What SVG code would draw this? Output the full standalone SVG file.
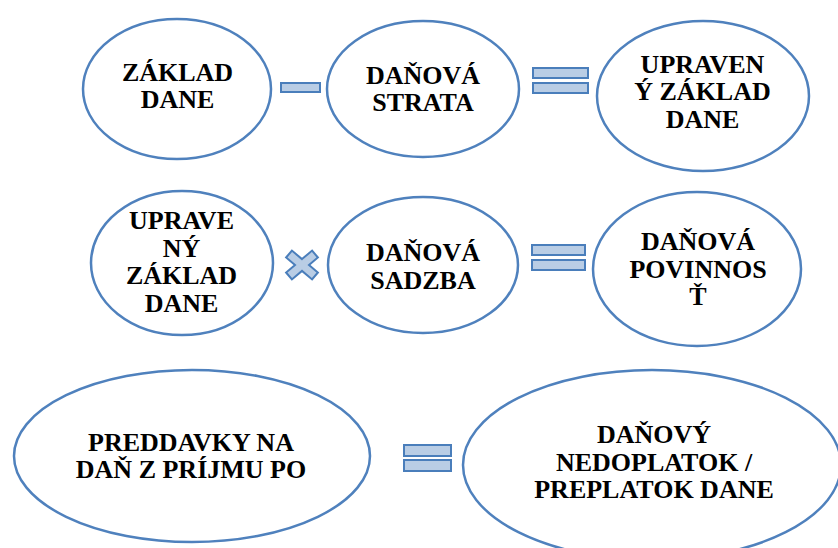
<svg xmlns="http://www.w3.org/2000/svg" width="838" height="548" viewBox="0 0 838 548">
<style>
.node{fill:#FFFFFF;stroke:#4F81BD;stroke-width:2.5}
.op{fill:#B9CDE5;stroke:#4A7EBB;stroke-width:2}
text{fill:#000;text-anchor:middle}
</style>
<rect width="838" height="548" fill="#FFFFFF"/>
<g font-family="Liberation Serif, Times New Roman, DejaVu Serif, Noto Serif, serif" font-weight="bold" font-size="26">
<g id="n1"><ellipse class="node" cx="177" cy="89" rx="94" ry="70"/><text x="177.5" y="81">ZÁKLAD</text><text x="177.5" y="108">DANE</text></g>
<g id="n2"><ellipse class="node" cx="423" cy="89" rx="96" ry="68"/><text x="423" y="84">DAŇOVÁ</text><text x="423" y="111">STRATA</text></g>
<g id="n3"><ellipse class="node" cx="703" cy="96" rx="106" ry="75"/><text x="702.5" y="73">UPRAVEN</text><text x="702.5" y="100">Ý ZÁKLAD</text><text x="702.5" y="127.5">DANE</text></g>
<g id="n4"><ellipse class="node" cx="182" cy="263" rx="91" ry="72"/><text x="181.5" y="229">UPRAVE</text><text x="181.5" y="256.5">NÝ</text><text x="181.5" y="284">ZÁKLAD</text><text x="181.5" y="311.5">DANE</text></g>
<g id="n5"><ellipse class="node" cx="423" cy="265" rx="95" ry="68"/><text x="423" y="261">DAŇOVÁ</text><text x="423" y="289">SADZBA</text></g>
<g id="n6"><ellipse class="node" cx="697" cy="269" rx="104" ry="77"/><text x="698" y="250">DAŇOVÁ</text><text x="698" y="278">POVINNOS</text><text x="698" y="305">Ť</text></g>
<g id="n7"><ellipse class="node" cx="192" cy="456" rx="178" ry="86"/><text x="191" y="451">PREDDAVKY NA</text><text x="191" y="478">DAŇ Z PRÍJMU PO</text></g>
<g id="n8"><ellipse class="node" cx="652" cy="465" rx="189" ry="95"/><text x="654" y="443">DAŇOVÝ</text><text x="654" y="471">NEDOPLATOK /</text><text x="654" y="498">PREPLATOK DANE</text></g>
</g>
<g id="connectors">
<rect class="op" x="281" y="83" width="39" height="9"/>
<rect class="op" x="533" y="68" width="55" height="10"/>
<rect class="op" x="533" y="83" width="55" height="10"/>
<polygon class="op" transform="translate(302,265)" points="0,-5.9 10.1,-14.4 15.9,-7.5 7,0 15.9,7.5 10.1,14.4 0,5.9 -10.1,14.4 -15.9,7.5 -7,0 -15.9,-7.5 -10.1,-14.4"/>
<rect class="op" x="532" y="245" width="53" height="10"/>
<rect class="op" x="532" y="260" width="53" height="10"/>
<rect class="op" x="404" y="445" width="47" height="11"/>
<rect class="op" x="404" y="460" width="47" height="11"/>
</g>
</svg>
